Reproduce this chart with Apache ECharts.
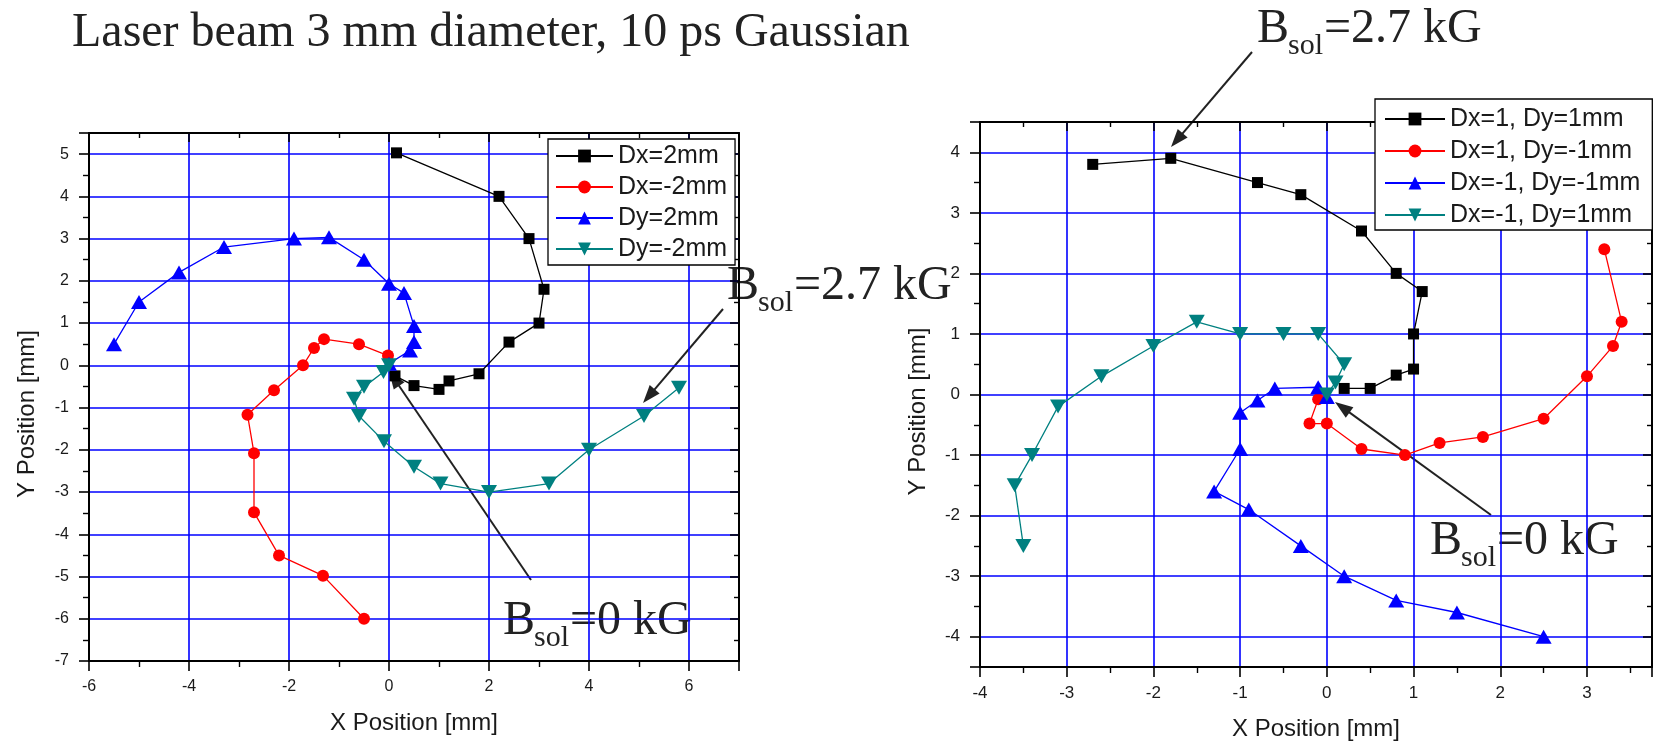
<!DOCTYPE html>
<html>
<head>
<meta charset="utf-8">
<script src="https://cdn.jsdelivr.net/npm/echarts@6/dist/echarts.min.js"></script>
<style>
  html, body { margin: 0; padding: 0; background: #ffffff; }
  #chart { width: 1657px; height: 747px; }
</style>
</head>
<body>
<div id="chart"></div>
<script>
// Beam centroid at the screen while the solenoid field is ramped from 0 to 2.7 kG.
// Each track starts near the origin (B_sol = 0) and spirals outward.

// Left panel: laser offset along one axis (points as [x, y] in mm)
const dx2  = [[0.12,-0.25],[0.5,-0.48],[1.0,-0.57],[1.2,-0.37],[1.8,-0.2],[2.4,0.55],[3.0,1.0],[3.1,1.8],[2.8,3.0],[2.2,4.0],[0.15,5.03]];
const dxm2 = [[-0.02,0.23],[-0.6,0.5],[-1.3,0.62],[-1.5,0.41],[-1.72,0.0],[-2.3,-0.59],[-2.83,-1.17],[-2.7,-2.08],[-2.7,-3.48],[-2.2,-4.5],[-1.32,-4.98],[-0.5,-6.0]];
const dy2  = [[0,0.04],[0.42,0.35],[0.5,0.55],[0.5,0.93],[0.3,1.71],[0,1.93],[-0.5,2.5],[-1.2,3.03],[-1.9,3.0],[-3.3,2.8],[-4.2,2.2],[-5.0,1.5],[-5.5,0.5]];
const dym2 = [[0,0],[-0.11,-0.16],[-0.5,-0.51],[-0.7,-0.79],[-0.6,-1.2],[-0.1,-1.8],[0.5,-2.4],[1.03,-2.8],[2.0,-3.0],[3.2,-2.8],[4.0,-2.0],[5.1,-1.2],[5.8,-0.53]];

// Right panel: diagonal laser offsets
const pp = [[0.2,0.1],[0.5,0.1],[0.8,0.32],[1.0,0.42],[1.0,1.0],[1.1,1.7],[0.8,2.0],[0.4,2.7],[-0.3,3.3],[-0.8,3.5],[-1.8,3.9],[-2.7,3.8]];
const pm = [[-0.1,-0.08],[-0.2,-0.48],[0,-0.48],[0.4,-0.9],[0.9,-1.0],[1.3,-0.8],[1.8,-0.7],[2.5,-0.4],[3.0,0.3],[3.3,0.8],[3.4,1.2],[3.2,2.4]];
const mm = [[0,-0.04],[-0.1,0.12],[-0.6,0.1],[-0.8,-0.1],[-1.0,-0.3],[-1.0,-0.9],[-1.3,-1.6],[-0.9,-1.9],[-0.3,-2.5],[0.2,-3.0],[0.8,-3.4],[1.5,-3.6],[2.5,-4.0]];
const mp = [[0,0],[0.1,0.2],[0.2,0.5],[-0.1,1.0],[-0.5,1.0],[-1.0,1.0],[-1.5,1.2],[-2.0,0.8],[-2.6,0.3],[-3.1,-0.2],[-3.4,-1.0],[-3.6,-1.5],[-3.5,-2.5]];

const leftNames  = ['Dx=2mm', 'Dx=-2mm', 'Dy=2mm', 'Dy=-2mm'];
const rightNames = ['Dx=1, Dy=1mm', 'Dx=1, Dy=-1mm', 'Dx=-1, Dy=-1mm', 'Dx=-1, Dy=1mm'];

// Axis ranges [min, max, major step]
const leftXRange  = [-6, 7, 2];
const leftYRange  = [-7, 5.5, 1];
const rightXRange = [-4, 3.75, 1];
const rightYRange = [-4.5, 4.5, 1];

const title = 'Laser beam 3 mm diameter, 10 ps Gaussian';
const axisTitleX = 'X Position [mm]';
const axisTitleY = 'Y Position [mm]';

const COLORS = ['#000000', '#ff0000', '#0000ff', '#008080'];
const DOWN_TRI = 'path://M0,0L20,0L10,17Z';
const SYMBOLS = [
  { symbol: 'rect', size: 11 },
  { symbol: 'circle', size: 12 },
  { symbol: 'triangle', size: [16, 14] },
  { symbol: DOWN_TRI, size: [16, 14] }
];
const SANS = '"Liberation Sans", Arial, sans-serif';
const SERIF = '"Liberation Serif", "Times New Roman", serif';
const INK = '#1a1a1a';

function tickFormatter(max) {
  return function (v) {
    const r = Math.round(v);
    if (Math.abs(v - r) > 1e-6 || Math.abs(v - max) < 1e-6) return '';
    return String(r);
  };
}

// Main (labelled, gridded) axis or its mirrored partner on the opposite side
function makeAxis(gridIndex, position, range, main, fontSize, name, useInterval) {
  const isY = position === 'left' || position === 'right';
  const ax = {
    type: 'value',
    gridIndex: gridIndex,
    position: position,
    min: range[0],
    max: range[1],
    axisLine: { show: true, onZero: false, lineStyle: { color: '#000', width: 2 } },
    axisTick: { show: true, inside: !main, length: main ? 10 : 9, lineStyle: { color: '#000', width: 1.6 } },
    minorTick: { show: true, splitNumber: 2, length: main ? 6 : 5, lineStyle: { color: '#000', width: 1.4 } },
    axisLabel: {
      show: main, margin: isY ? 20 : 18, fontSize: fontSize, fontFamily: SANS, color: INK,
      formatter: tickFormatter(range[1])
    },
    splitLine: { show: main, lineStyle: { color: '#0000ff', width: 1.6 } },
    minorSplitLine: { show: false }
  };
  if (useInterval) {
    ax.interval = range[2];
  } else {
    ax.minInterval = range[2];
    ax.maxInterval = range[2];
    ax.splitNumber = Math.round((range[1] - range[0]) / range[2]);
  }
  if (main && name) {
    ax.name = name;
    ax.nameLocation = 'middle';
    ax.nameTextStyle = { fontSize: 24, fontFamily: SANS, color: INK };
    ax.nameGap = 50;
    if (isY) {
      ax.nameRotate = 90;
      ax.nameTextStyle.padding = [0, 34, 0, 0];
    }
  }
  return ax;
}

function makeSeries(name, data, idx, axisIndex) {
  return {
    name: name,
    type: 'line',
    xAxisIndex: axisIndex,
    yAxisIndex: axisIndex,
    data: data,
    symbol: SYMBOLS[idx].symbol,
    symbolSize: SYMBOLS[idx].size,
    showAllSymbol: true,
    itemStyle: { color: COLORS[idx] },
    lineStyle: { color: COLORS[idx], width: 1.3 },
    emphasis: { disabled: true },
    animation: false,
    z: 3
  };
}

function makeLegend(names, left, top, padding, itemWidth, gap) {
  return {
    data: names,
    orient: 'vertical',
    left: left,
    top: top,
    padding: padding,
    itemWidth: itemWidth,
    itemHeight: 16,
    itemGap: gap,
    backgroundColor: '#ffffff',
    borderColor: '#000000',
    borderWidth: 1.3,
    borderRadius: 0,
    selectedMode: false,
    textStyle: { fontFamily: SANS, fontSize: 25, color: INK, lineHeight: 26 },
    z: 10
  };
}

// Large serif label of the form  B_sol=<value> kG  (baseline-anchored)
function bsolLabel(x, baseline, valueText) {
  const big = 48, small = 30;
  const k = 0.335;
  return {
    type: 'group', z: 20,
    children: [
      { type: 'text', x: x, y: baseline - k * big,
        style: { text: 'B', font: big + 'px ' + SERIF, fill: '#222', verticalAlign: 'middle' } },
      { type: 'text', x: x + 31, y: baseline + 11.5 - k * small,
        style: { text: 'sol', font: small + 'px ' + SERIF, fill: '#222', verticalAlign: 'middle' } },
      { type: 'text', x: x + 67, y: baseline - k * big,
        style: { text: '=' + valueText, font: big + 'px ' + SERIF, fill: '#222', verticalAlign: 'middle' } }
    ]
  };
}

function arrow(x1, y1, x2, y2) {
  const dx = x2 - x1, dy = y2 - y1;
  const len = Math.sqrt(dx * dx + dy * dy);
  const ux = dx / len, uy = dy / len;
  const headLen = 18, halfW = 6.5;
  const bx = x2 - ux * headLen, by = y2 - uy * headLen;
  return {
    type: 'group', z: 20,
    children: [
      { type: 'line', shape: { x1: x1, y1: y1, x2: bx + ux * 2, y2: by + uy * 2 },
        style: { stroke: '#222', lineWidth: 2 } },
      { type: 'polygon',
        shape: { points: [[x2, y2], [bx - uy * halfW, by + ux * halfW], [bx + uy * halfW, by - ux * halfW]] },
        style: { fill: '#222' } }
    ]
  };
}

const chart = echarts.init(document.getElementById('chart'), null, { renderer: 'canvas' });

const option = {
  backgroundColor: '#ffffff',
  animation: false,
  grid: [
    { left: 89, top: 133, width: 650, height: 528 },
    { left: 980, top: 122, width: 672, height: 545 }
  ],
  xAxis: [
    makeAxis(0, 'bottom', leftXRange, true, 16, axisTitleX, true),
    makeAxis(0, 'top', leftXRange, false, 16, null, true),
    makeAxis(1, 'bottom', rightXRange, true, 17, axisTitleX, true),
    makeAxis(1, 'top', rightXRange, false, 17, null, true)
  ],
  yAxis: [
    makeAxis(0, 'left', leftYRange, true, 16, axisTitleY, true),
    makeAxis(0, 'right', leftYRange, false, 16, null, true),
    makeAxis(1, 'left', rightYRange, true, 17, axisTitleY, false),
    makeAxis(1, 'right', rightYRange, false, 17, null, false)
  ],
  legend: [
    makeLegend(leftNames, 548, 139, [4, 8, 3, 7], 57, 5),
    makeLegend(rightNames, 1375, 99, [7, 12, 2, 9], 60, 6)
  ],
  series: [
    makeSeries(leftNames[0], dx2, 0, 0),
    makeSeries(leftNames[1], dxm2, 1, 0),
    makeSeries(leftNames[2], dy2, 2, 0),
    makeSeries(leftNames[3], dym2, 3, 0),
    makeSeries(rightNames[0], pp, 0, 2),
    makeSeries(rightNames[1], pm, 1, 2),
    makeSeries(rightNames[2], mm, 2, 2),
    makeSeries(rightNames[3], mp, 3, 2)
  ],
  graphic: [
    { type: 'text', x: 72, y: 49 - 0.335 * 48, z: 20,
      style: { text: title, font: '48px ' + SERIF, fill: '#222', verticalAlign: 'middle' } },
    bsolLabel(1257, 45, '2.7 kG'),
    bsolLabel(727, 302, '2.7 kG'),
    bsolLabel(503, 637, '0 kG'),
    bsolLabel(1430, 557, '0 kG'),
    arrow(531, 580, 389, 371),
    arrow(723, 309, 643, 403),
    arrow(1252, 52, 1171, 147),
    arrow(1491, 515, 1335, 402)
  ]
};

chart.setOption(option);
</script>
</body>
</html>
